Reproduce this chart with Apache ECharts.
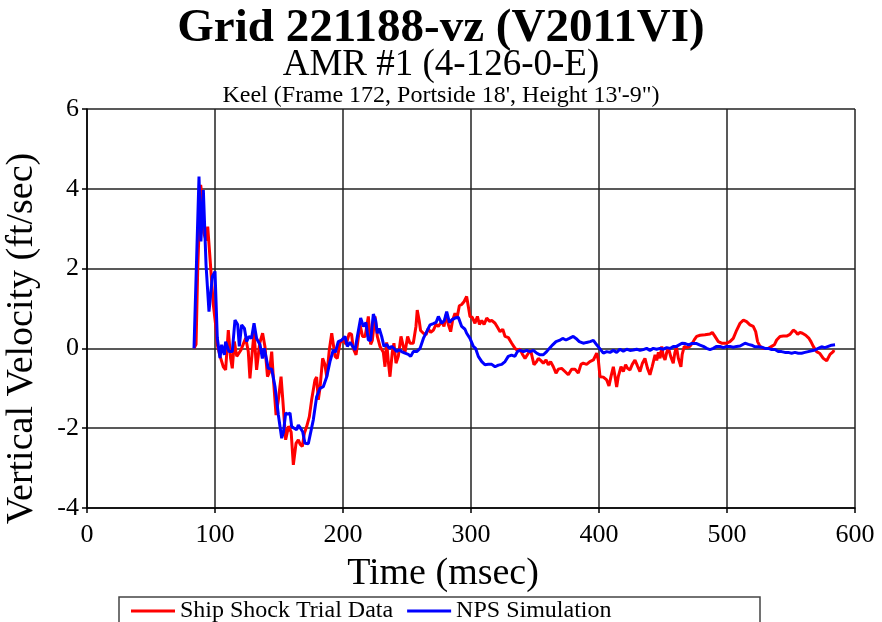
<!DOCTYPE html>
<html>
<head>
<meta charset="utf-8">
<script src="https://cdn.jsdelivr.net/npm/echarts@6/dist/echarts.min.js"></script>
<style>
  html, body { margin: 0; padding: 0; background: #fff; }
  #chart { width: 882px; height: 622px; }
</style>
</head>
<body>
<div id="chart"></div>
<script>
// ship shock trial record (red)
const redTime = [
  83.6, 85.2, 86.5, 88.8, 90.1, 91.2, 93.0, 94.3, 96.1, 98.7, 100.5, 101.8, 104.0, 106.5, 108.3, 110.4,
  112.2, 113.5, 115.1, 117.0, 118.5, 120.3, 122.0, 124.0, 126.0, 127.3, 128.5, 130.5, 132.5, 134.9,
  137.2, 139.0, 141.0, 142.5, 144.3, 145.5, 147.7, 149.5, 151.6, 153.0, 155.2, 157.5, 159.5, 161.2,
  163.3, 165.1, 166.5, 168.2, 169.8, 171.6, 173.7, 175.5, 178.1, 179.4, 180.7, 182.0, 184.1, 185.8,
  187.3, 189.3, 191.2, 193.8, 195.5, 197.7, 200.5, 202.5, 204.9, 206.7, 208.0, 210.2, 211.9, 213.3,
  215.3, 217.3, 219.8, 221.6, 222.9, 225.0, 226.8, 228.9, 230.2, 231.5, 232.8, 234.1, 235.4, 236.7,
  238.5, 239.8, 241.4, 243.2, 245.3, 247.1, 248.4, 250.5, 252.3, 254.9, 257.0, 258.0, 259.5, 260.6,
  262.8, 264.9, 266.6, 268.5, 270.6, 272.7, 274.5, 277.1, 278.9, 280.5, 282.3, 284.1, 285.6, 287.5,
  289.0, 290.9, 292.7, 294.5, 296.6, 297.8, 299.2, 301.0, 303.1, 305.0, 306.6, 308.4, 310.2, 312.3,
  314.4, 316.2, 318.8, 320.7, 322.7, 324.8, 326.6, 329.2, 331.8, 334.4, 336.2, 338.3, 340.4, 342.2,
  344.8, 346.6, 349.2, 351.3, 352.6, 354.4, 356.5, 358.6, 360.4, 362.2, 364.3, 366.4, 368.2, 370.8,
  373.4, 376.0, 378.6, 381.2, 383.8, 385.9, 387.7, 390.3, 392.9, 395.6, 398.2, 399.5, 400.8, 403.4,
  406.0, 407.8, 409.4, 411.2, 412.5, 413.8, 415.1, 417.2, 419.0, 420.8, 422.3, 424.2, 426.0, 428.1,
  430.2, 432.0, 433.8, 435.9, 437.9, 439.8, 441.6, 443.8, 445.1, 446.4, 447.7, 449.0, 450.3, 451.6,
  452.9, 454.2, 456.0, 458.0, 459.3, 460.6, 462.0, 464.0, 465.0, 466.6, 468.5, 471.0, 472.9, 474.5,
  476.3, 479.0, 482.8, 486.7, 488.5, 490.6, 493.2, 495.8, 499.7, 502.3, 504.9, 507.6, 510.2, 512.8,
  515.3, 517.9, 520.5, 522.4, 523.9, 525.8, 528.4, 532.3, 534.9, 537.0, 538.8, 541.4, 544.0, 546.6,
  549.2, 551.8, 553.6, 555.2, 557.0, 558.9, 561.5, 564.1, 565.6, 567.4, 570.0, 572.6, 575.2, 577.9,
  580.5, 583.0, 583.6
]
const redVel = [
  0, 0.1, 2.0, 4.1, 3.76, 2.9, 2.7, 3.05, 2.26, 1.09, 0.59, 0.09, -0.2, -0.46, -0.54, 0.46,
  -0.25, -0.5, 0.17, -0.2, -0.15, -0.04, 0.1, 0.26, -0.08, -0.75, -0.3, 0.4, -0.54, 0.13,
  0.38, 0.05, -0.71, -0.6, -0.08, -0.7, -1.67, -1.29, -0.71, -1.3, -2.29, -1.95, -2.1, -2.92,
  -2.38, -2.29, -2.4, -2.46, -2.13, -1.96, -1.71, -1.29, -0.79, -0.72, -1.29, -1.0, -0.25, -0.4,
  -0.71, -0.04, 0.38, -0.2, -0.25, 0.15, 0.2, 0.1, 0.38, 0.35, 0.0, -0.16, 0.25, 0.59,
  0.3, 0.3, 0.8, 0.1, 0.2, 0.8, 0.3, 0.05, 0.0, -0.1, -0.46, 0.15, -0.33, -0.71,
  -0.1, 0.13, -0.37, -0.2, 0.3, 0.05, -0.1, 0.3, 0.13, 0.13, 0.55, 0.96, 0.7, 0.45,
  0.38, 0.34, 0.5, 0.4, 0.46, 0.6, 0.55, 0.67, 0.55, 0.84, 0.6, 0.42, 0.7, 0.88,
  0.75, 1.07, 1.1, 1.17, 1.3, 1.32, 0.8, 0.78, 0.63, 0.8, 0.6, 0.7, 0.6, 0.76,
  0.68, 0.7, 0.63, 0.53, 0.42, 0.48, 0.3, 0.27, 0.13, 0.0, -0.05, -0.02, -0.16, -0.25,
  -0.12, -0.05, -0.41, -0.33, -0.25, -0.3, -0.37, -0.29, -0.41, -0.33, -0.46, -0.62, -0.52, -0.5,
  -0.58, -0.66, -0.52, -0.52, -0.62, -0.4, -0.37, -0.4, -0.33, -0.29, -0.12, -0.3, -0.71, -0.72,
  -0.79, -0.94, -0.7, -0.46, -0.7, -0.97, -0.7, -0.46, -0.58, -0.41, -0.5, -0.54, -0.4, -0.29,
  -0.45, -0.58, -0.38, -0.25, -0.5, -0.66, -0.45, -0.16, -0.3, -0.1, -0.25, 0.05, -0.2, -0.29,
  -0.1, 0.02, -0.2, -0.37, -0.1, 0.02, -0.25, -0.46, -0.15, 0.05, 0.02, 0.05, 0.13, 0.22,
  0.3, 0.33, 0.34, 0.36, 0.4, 0.3, 0.17, 0.13, 0.13, 0.17, 0.25, 0.46, 0.63, 0.71,
  0.67, 0.59, 0.55, 0.42, 0.17, 0.05, 0.0, 0.0, 0.05, 0.09, 0.21, 0.3, 0.31, 0.31,
  0.35, 0.46, 0.42, 0.35, 0.4, 0.38, 0.33, 0.25, 0.17, 0.05, -0.08, -0.13, -0.25, -0.31,
  -0.15, -0.08, -0.04
]

// NPS simulation (blue)
const blueTime = [
  83.6, 84.6, 87.5, 89.0, 90.9, 93.0, 95.3, 97.9, 100.0, 101.8, 103.9, 105.2, 107.3, 108.3, 110.9,
  113.5, 115.6, 117.7, 119.0, 120.8, 123.0, 124.7, 126.6, 128.5, 130.5, 132.5, 135.2, 137.0, 138.5,
  141.6, 144.3, 146.9, 149.5, 152.1, 153.5, 155.2, 156.9, 158.6, 159.9, 161.8, 163.8, 165.1, 166.8,
  168.5, 170.3, 172.9, 174.2, 176.8, 179.4, 182.0, 184.6, 187.3, 189.8, 192.4, 194.0, 196.3, 199.0,
  201.6, 203.4, 205.5, 207.0, 209.4, 211.2, 213.8, 215.9, 217.9, 219.8, 221.6, 223.7, 225.5, 226.8,
  228.3, 230.2, 232.0, 234.1, 236.2, 238.0, 239.8, 241.9, 243.9, 245.8, 248.4, 251.0, 252.9, 254.9,
  257.6, 260.2, 262.8, 265.4, 268.0, 270.6, 272.7, 274.5, 277.1, 279.2, 281.0, 283.1, 285.1, 287.5,
  290.1, 292.7, 295.3, 296.6, 299.2, 301.8, 303.6, 305.7, 308.4, 310.9, 313.5, 316.2, 318.8, 321.4,
  324.0, 326.6, 329.1, 331.7, 334.3, 336.2, 338.3, 341.0, 343.5, 346.1, 348.7, 351.3, 353.9, 356.5,
  359.1, 361.2, 363.8, 366.4, 369.0, 371.6, 374.2, 376.8, 379.9, 382.0, 384.6, 387.7, 390.3, 393.0,
  395.6, 398.2, 400.0, 403.4, 406.0, 408.6, 411.2, 413.8, 416.4, 419.0, 421.6, 424.2, 426.8, 429.4,
  432.0, 434.6, 437.2, 439.8, 442.4, 445.0, 447.6, 450.3, 452.9, 455.5, 458.0, 460.6, 462.0, 464.8,
  467.4, 470.0, 472.2, 473.7, 476.3, 478.9, 481.5, 484.1, 486.7, 489.3, 491.9, 494.5, 497.1, 499.7,
  502.3, 504.9, 507.5, 510.2, 511.5, 514.1, 516.7, 519.3, 521.9, 524.5, 527.1, 529.7, 532.3, 534.9,
  537.5, 540.0, 542.6, 545.2, 547.8, 550.5, 553.1, 555.7, 558.3, 560.9, 563.5, 566.1, 568.7, 571.3,
  573.9, 576.5, 579.1, 581.7, 584.4
]
const blueVel = [
  0, 0.05, 4.31, 2.68, 3.97, 2.09, 0.92, 1.8, 1.93, 0.26, -0.24, 0.09, -0.16, 0.17, -0.08,
  -0.08, 0.71, 0.6, 0.05, 0.59, 0.5, 0.17, 0.3, 0.25, 0.63, 0.25, 0.09, -0.25, 0.0,
  -0.5, -0.52, -0.96, -1.67, -2.25, -2.1, -1.62, -1.65, -1.62, -1.96, -2.0, -2.04, -1.92, -2.0,
  -2.09, -2.38, -2.39, -2.38, -1.79, -1.21, -1.0, -0.96, -0.71, -0.33, -0.04, -0.1, 0.17, 0.21,
  0.3, 0.05, 0.15, 0.1, -0.04, 0.3, 0.76, 0.55, 0.65, 0.21, 0.2, 0.86, 0.7, 0.38,
  0.5, 0.3, 0.05, 0.1, 0.0, 0.05, 0.0, -0.08, -0.03, -0.08, -0.12, -0.15, -0.2, -0.08,
  -0.08, 0.0, 0.25, 0.42, 0.59, 0.62, 0.65, 0.8, 0.63, 0.7, 0.92, 0.65, 0.72, 0.76,
  0.78, 0.55, 0.48, 0.38, 0.25, 0.05, 0.0, -0.2, -0.33, -0.41, -0.4, -0.4, -0.46, -0.42,
  -0.4, -0.33, -0.2, -0.17, -0.2, -0.08, -0.05, -0.08, -0.05, -0.08, -0.05, -0.12, -0.16, -0.16,
  -0.08, 0.0, 0.09, 0.17, 0.2, 0.25, 0.21, 0.25, 0.3, 0.25, 0.17, 0.13, 0.15, 0.17,
  0.2, 0.09, 0.02, -0.12, -0.08, -0.1, -0.05, -0.1, -0.02, -0.07, -0.02, -0.05, -0.04, -0.02,
  -0.05, -0.03, 0.0, -0.05, 0.0, -0.02, 0.0, -0.02, 0.02, 0.0, 0.05, 0.05, 0.09, 0.13,
  0.12, 0.09, 0.12, 0.17, 0.12, 0.08, 0.05, 0.0, -0.03, 0.0, 0.05, 0.05, 0.02, 0.05,
  0.05, 0.03, 0.05, 0.06, 0.09, 0.13, 0.1, 0.08, 0.04, 0.04, 0.03, 0.0, 0.0, -0.03,
  -0.03, -0.08, -0.08, -0.1, -0.1, -0.12, -0.1, -0.12, -0.12, -0.1, -0.08, -0.06, -0.04, 0.0,
  0.04, 0.02, 0.05, 0.08, 0.09
]

const seriesNames = ['Ship Shock Trial Data', 'NPS Simulation']
const titleLines = ['Grid 221188-vz (V2011VI)', 'AMR #1 (4-126-0-E)', 'Keel (Frame 172, Portside 18\', Height 13\'-9")']

const FONT = 'Liberation Serif'
const zip = (t, v) => t.map((x, i) => [x, v[i]])

const chart = echarts.init(document.getElementById('chart'), null, { renderer: 'canvas' })

const option = {
  backgroundColor: '#fff',
  animation: false,
  title: [
    {
      text: titleLines[0],
      left: 'center',
      top: 0,
      textStyle: { fontFamily: FONT, fontSize: 47, fontWeight: 'bold', color: '#000' }
    },
    {
      text: titleLines[1],
      left: 'center',
      top: 42,
      textStyle: { fontFamily: FONT, fontSize: 37, fontWeight: 'normal', color: '#000' }
    },
    {
      text: titleLines[2],
      left: 'center',
      top: 79,
      textStyle: { fontFamily: FONT, fontSize: 24, fontWeight: 'normal', color: '#000' }
    }
  ],
  grid: {
    left: 87,
    right: 27,
    top: 109,
    bottom: 114,
    containLabel: false,
    outerBoundsMode: 'none'
  },
  legend: {
    left: 126,
    top: 594,
    icon: 'rect',
    itemWidth: 44,
    itemHeight: 3,
    itemGap: 14,
    textStyle: { fontFamily: FONT, fontSize: 24, color: '#000' },
    data: seriesNames
  },
  graphic: [
    {
      type: 'rect',
      shape: { x: 119, y: 597, width: 641, height: 40 },
      style: { fill: 'none', stroke: '#444', lineWidth: 1.5 },
      silent: true
    }
  ],
  xAxis: {
    type: 'value',
    min: 0,
    max: 600,
    interval: 100,
    name: 'Time (msec)',
    nameLocation: 'middle',
    nameGap: 47,
    nameTextStyle: { fontFamily: FONT, fontSize: 38, color: '#000', padding: [0, 56, 0, 0] },
    axisLine: { show: true, onZero: false, lineStyle: { color: '#000', width: 1.5 } },
    axisTick: { show: true, inside: false, length: 5, lineStyle: { color: '#000', width: 1.5 } },
    axisLabel: { fontFamily: FONT, fontSize: 26, color: '#000', margin: 14 },
    splitLine: { show: true, lineStyle: { color: '#222', width: 1.5 } }
  },
  yAxis: {
    type: 'value',
    min: -4,
    max: 6,
    interval: 2,
    name: 'Vertical Velocity (ft/sec)',
    nameLocation: 'middle',
    nameGap: 46,
    nameTextStyle: { fontFamily: FONT, fontSize: 38, color: '#000', padding: [0, 60, 0, 0] },
    axisLine: { show: true, lineStyle: { color: '#000', width: 1.5 } },
    axisTick: { show: true, inside: false, length: 5, lineStyle: { color: '#000', width: 1.5 } },
    axisLabel: { fontFamily: FONT, fontSize: 26, color: '#000', margin: 8 },
    splitLine: { show: true, lineStyle: { color: '#222', width: 1.5 } }
  },
  series: [
    {
      name: seriesNames[0],
      type: 'line',
      symbol: 'none',
      color: '#ff0000',
      lineStyle: { color: '#ff0000', width: 3 },
      data: zip(redTime, redVel)
    },
    {
      name: seriesNames[1],
      type: 'line',
      symbol: 'none',
      color: '#0000ff',
      lineStyle: { color: '#0000ff', width: 3 },
      data: zip(blueTime, blueVel)
    }
  ]
}

chart.setOption(option)
</script>
</body>
</html>
